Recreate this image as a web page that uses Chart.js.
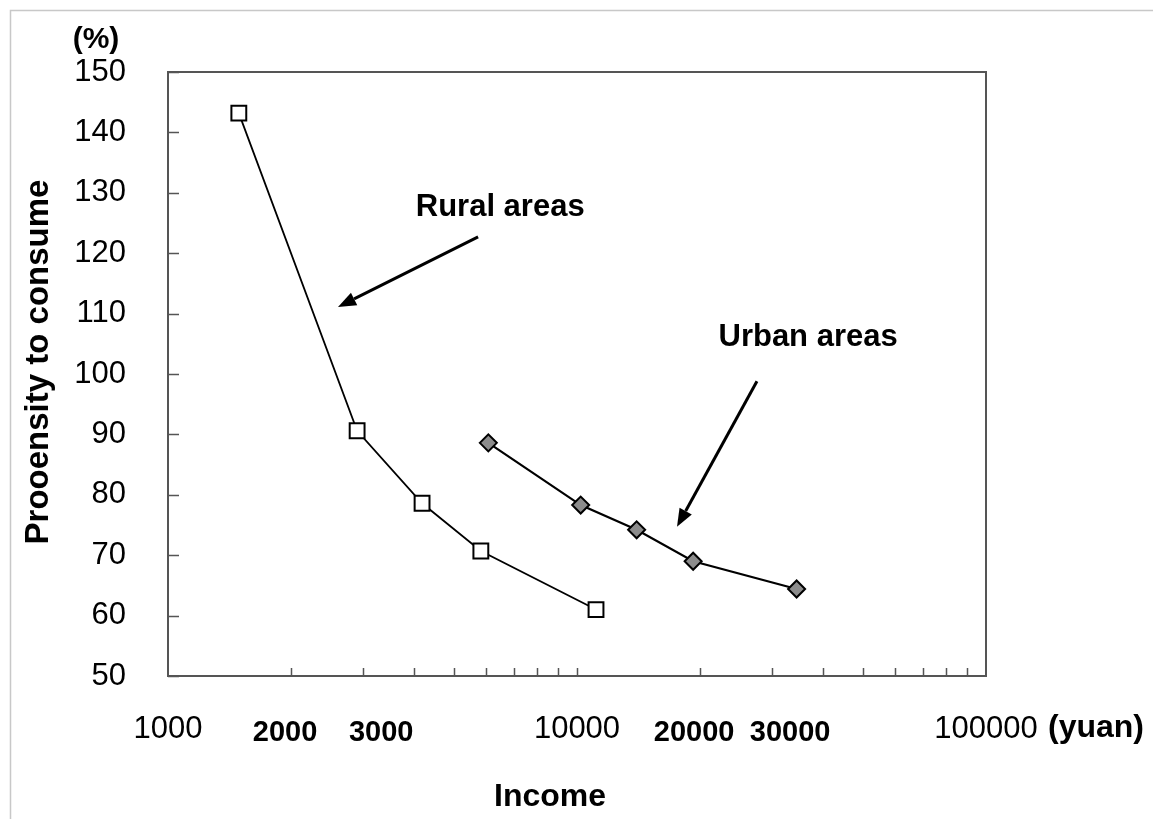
<!DOCTYPE html>
<html>
<head>
<meta charset="utf-8">
<script src="https://cdn.jsdelivr.net/npm/chart.js@4.4.1/dist/chart.umd.min.js"></script>
<style>
  body { margin: 0; background: #fff; }
</style>
</head>
<body>
<canvas id="myChart" width="1153" height="819"></canvas>
<script>
// values
let ruralIncome = [1490, 2900, 4180, 5820, 11130];
let ruralRate = [143.2, 90.6, 78.6, 70.7, 61.0];
let urbanIncome = [6070, 10210, 13990, 19230, 34430];
let urbanRate = [88.6, 78.3, 74.2, 69.0, 64.4];

let xLabelTicks = [1000, 2000, 3000, 10000, 20000, 30000, 100000];
let xBoldTicks = [2000, 3000, 20000, 30000];
let yTicks = [50, 60, 70, 80, 90, 100, 110, 120, 130, 140, 150];

// annotation text + arrows in data units [income, rate]
let ruralLabel = {text: 'Rural areas', at: [6490, 127.6]};
let urbanLabel = {text: 'Urban areas', at: [36730, 106.1]};
let ruralArrow = [[5730, 122.7], [2604, 111.1]];
let urbanArrow = [[27540, 98.8], [17560, 74.7]];

let minorTicks = [];
for (let d = 1000; d < 100000; d *= 10) {
    for (let k = 2; k < 10; k++) minorTicks.push(k * d);
}

const fontFam = '"Liberation Sans", Arial, sans-serif';

function arrow(ctx, x1, y1, x2, y2) {
    let ang = Math.atan2(y2 - y1, x2 - x1);
    let head = 18;
    let bx = x2 - head * Math.cos(ang);
    let by = y2 - head * Math.sin(ang);
    ctx.beginPath();
    ctx.moveTo(x1, y1);
    ctx.lineTo(bx, by);
    ctx.lineWidth = 3;
    ctx.strokeStyle = '#000';
    ctx.stroke();
    ctx.beginPath();
    ctx.moveTo(x2, y2);
    ctx.lineTo(bx + 7 * Math.sin(ang), by - 7 * Math.cos(ang));
    ctx.lineTo(bx - 7 * Math.sin(ang), by + 7 * Math.cos(ang));
    ctx.closePath();
    ctx.fillStyle = '#000';
    ctx.fill();
}

// the bold 2x / 3x labels sit a little apart from their ticks, like the original
function labelNudge(v) {
    if (!xBoldTicks.includes(v)) return 0;
    let lead = String(v)[0];
    return lead === '2' ? -6 : 18;
}

const decorPlugin = {
    id: 'decor',
    beforeDraw(chart) {
        let ctx = chart.ctx;
        ctx.save();
        ctx.fillStyle = '#fff';
        ctx.fillRect(0, 0, chart.width, chart.height);
        // outer frame
        ctx.strokeStyle = '#c8c8c8';
        ctx.lineWidth = 1.5;
        ctx.strokeRect(10.5, 10.5, chart.width + 20, chart.height + 20);
        ctx.restore();
    },
    afterDatasetsDraw(chart) {
        let ctx = chart.ctx;
        let a = chart.chartArea;
        let xs = chart.scales.x;
        let ys = chart.scales.y;
        ctx.save();
        // plot border
        ctx.strokeStyle = '#555';
        ctx.lineWidth = 2;
        ctx.strokeRect(a.left, a.top, a.right - a.left, a.bottom - a.top);
        // inward tick marks
        ctx.beginPath();
        minorTicks.concat([10000]).forEach(v => {
            let px = Math.round(xs.getPixelForValue(v)) + 0.5;
            ctx.moveTo(px, a.bottom);
            ctx.lineTo(px, a.bottom - 8);
        });
        yTicks.forEach(v => {
            let py = Math.round(ys.getPixelForValue(v)) + 0.5;
            ctx.moveTo(a.left, py);
            ctx.lineTo(a.left + 11, py);
        });
        ctx.lineWidth = 1.5;
        ctx.stroke();

        // x tick labels
        ctx.fillStyle = '#000';
        ctx.textAlign = 'center';
        ctx.textBaseline = 'middle';
        xLabelTicks.forEach(v => {
            let bold = xBoldTicks.includes(v);
            ctx.font = (bold ? 'bold 29px ' : '31px ') + fontFam;
            ctx.fillText(String(v), xs.getPixelForValue(v) + labelNudge(v), a.bottom + (bold ? 57 : 53));
        });

        // arrows
        [ruralArrow, urbanArrow].forEach(ar => {
            arrow(ctx,
                xs.getPixelForValue(ar[0][0]), ys.getPixelForValue(ar[0][1]),
                xs.getPixelForValue(ar[1][0]), ys.getPixelForValue(ar[1][1]));
        });

        // annotation labels
        ctx.fillStyle = '#000';
        ctx.font = 'bold 31px ' + fontFam;
        [ruralLabel, urbanLabel].forEach(l => {
            ctx.fillText(l.text, xs.getPixelForValue(l.at[0]), ys.getPixelForValue(l.at[1]));
        });

        // titles
        ctx.font = 'bold 30px ' + fontFam;
        ctx.fillText('(%)', 96, 40);
        ctx.font = 'bold 32px ' + fontFam;
        ctx.fillText('Income', 550, 797);
        ctx.textAlign = 'left';
        ctx.fillText('(yuan)', 1048, 728);
        ctx.save();
        ctx.translate(39, 362);
        ctx.rotate(-Math.PI / 2);
        ctx.textAlign = 'center';
        ctx.font = 'bold 33px ' + fontFam;
        ctx.fillText('Prooensity to consume', 0, 0);
        ctx.restore();
        ctx.restore();
    }
};

function toPoints(xv, yv) {
    return xv.map((v, i) => ({x: v, y: yv[i]}));
}

const ctx = document.getElementById('myChart');
const incomeChart = new Chart(ctx, {
    type: 'scatter',
    data: {
        datasets: [{
            label: 'Rural areas',
            data: toPoints(ruralIncome, ruralRate),
            showLine: true,
            borderColor: '#000',
            borderWidth: 1.8,
            pointStyle: 'rect',
            pointRadius: 10.5,
            pointBackgroundColor: '#fff',
            pointBorderColor: '#000',
            pointBorderWidth: 2
        }, {
            label: 'Urban areas',
            data: toPoints(urbanIncome, urbanRate),
            showLine: true,
            borderColor: '#000',
            borderWidth: 2.2,
            pointStyle: 'rectRot',
            pointRadius: 8.5,
            pointBackgroundColor: '#8c8c8c',
            pointBorderColor: '#000',
            pointBorderWidth: 2
        }]
    },
    options: {
        responsive: false,
        animation: false,
        layout: {
            padding: {top: 72, right: 167, left: 0, bottom: 0}
        },
        plugins: {
            legend: {display: false},
            tooltip: {enabled: false}
        },
        scales: {
            x: {
                type: 'logarithmic',
                min: 1000,
                max: 100000,
                grid: {display: false, drawTicks: false},
                border: {display: false},
                afterBuildTicks: (s) => {
                    s.ticks = xLabelTicks.map(v => ({value: v}));
                },
                afterFit: (s) => { s.height = 143; },
                ticks: {display: false}
            },
            y: {
                min: 50,
                max: 150,
                grid: {display: false, drawTicks: false},
                border: {display: false},
                afterBuildTicks: (s) => {
                    s.ticks = yTicks.map(v => ({value: v}));
                },
                afterFit: (s) => { s.width = 168; },
                ticks: {
                    padding: 42,
                    color: '#000',
                    font: {family: fontFam, size: 31}
                }
            }
        }
    },
    plugins: [decorPlugin]
});
</script>
</body>
</html>
